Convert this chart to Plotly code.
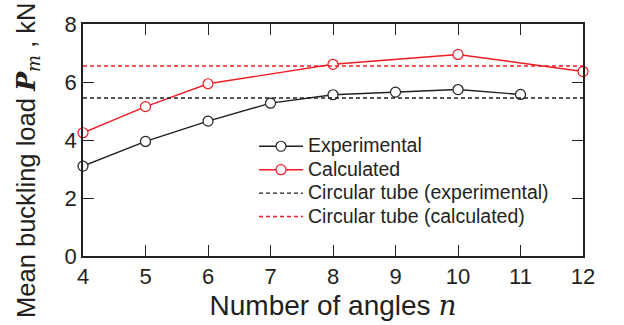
import plotly.graph_objects as go

n_exp = [4, 5, 6, 7, 8, 9, 10, 11]
p_exp = [3.1, 3.95, 4.65, 5.27, 5.56, 5.65, 5.74, 5.57]
n_calc = [4, 5, 6, 8, 10, 12]
p_calc = [4.25, 5.15, 5.94, 6.61, 6.95, 6.36]
circ_x = [4, 12]
circ_exp = 5.45
circ_calc = 6.55
x_ticks = [4, 5, 6, 7, 8, 9, 10, 11, 12]
y_ticks = [0, 2, 4, 6, 8]

INK = "#231f20"
RED = "#ee1c25"
SERIF = "font-family:'DejaVu Serif'"


def lg(name):
    return f'<span style="font-size:19.5px">{name}</span>'


fig = go.Figure()
fig.add_trace(go.Scatter(
    x=n_exp, y=p_exp, mode="lines+markers", name=lg("Experimental"), cliponaxis=False,
    line=dict(color=INK, width=1.4),
    marker=dict(symbol="circle", size=10, color="white", line=dict(color=INK, width=1.2)),
))
fig.add_trace(go.Scatter(
    x=n_calc, y=p_calc, mode="lines+markers", name=lg("Calculated"), cliponaxis=False,
    line=dict(color=RED, width=1.4),
    marker=dict(symbol="circle", size=10, color="white", line=dict(color=RED, width=1.2)),
))
fig.add_trace(go.Scatter(
    x=circ_x, y=[circ_exp] * 2, mode="lines", name=lg("Circular tube (experimental)"),
    line=dict(color=INK, width=1.4, dash="4px,3px"),
))
fig.add_trace(go.Scatter(
    x=circ_x, y=[circ_calc] * 2, mode="lines", name=lg("Circular tube (calculated)"),
    line=dict(color=RED, width=1.4, dash="4px,3px"),
))

fig.update_layout(
    width=624, height=325,
    margin=dict(l=83, r=41, t=18, b=69),
    paper_bgcolor="white", plot_bgcolor="white",
    font=dict(family="Liberation Sans, Arial, sans-serif", color=INK, size=22),
    showlegend=True,
    legend=dict(
        x=0.342, y=0.545, xanchor="left", yanchor="top",
        font=dict(size=15.7, color=INK), bgcolor="rgba(0,0,0,0)",
        itemwidth=44, tracegroupgap=0,
    ),
    annotations=[dict(
        text=f"Mean buckling load <b><i><span style=\"{SERIF}\">P</span></i></b><sub><i><span style=\"{SERIF}\">m</span></i></sub> , kN",
        xref="paper", yref="paper", x=-0.11, y=0.41, xanchor="center", yanchor="middle",
        textangle=-90, showarrow=False, font=dict(size=25.5, color=INK),
    )],
)
fig.update_xaxes(
    range=[4, 12], tickvals=x_ticks, ticktext=[str(v) for v in x_ticks],
    ticks="inside", ticklen=11, tickwidth=1.4, tickcolor=INK,
    showline=True, linecolor=INK, linewidth=1.6, mirror="ticks",
    showgrid=False, zeroline=False,
    tickfont=dict(size=22),
    title=dict(text=f"Number of angles <i><span style=\"{SERIF}\">n</span></i>",
               font=dict(size=28), standoff=1),
)
fig.update_yaxes(
    range=[0, 8], tickvals=y_ticks, ticktext=[str(v) for v in y_ticks],
    ticks="inside", ticklen=11, tickwidth=1.4, tickcolor=INK,
    showline=True, linecolor=INK, linewidth=1.6, mirror="ticks",
    showgrid=False, zeroline=False,
    tickfont=dict(size=22),
)

fig.write_html("out.html")
